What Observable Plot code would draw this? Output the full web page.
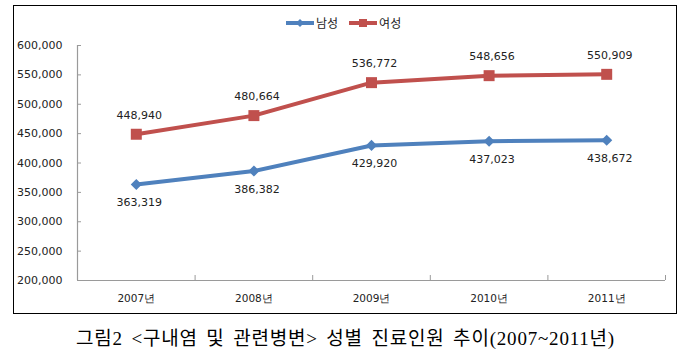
<!DOCTYPE html>
<html><head><meta charset="utf-8">
<script src="https://cdn.jsdelivr.net/npm/d3@7"></script>
<script src="https://cdn.jsdelivr.net/npm/@observablehq/plot@0.6"></script>
<style>
body{margin:0;background:#fff;width:691px;height:356px;overflow:hidden;position:relative;font-family:"DejaVu Sans",sans-serif}
#chart{position:absolute;left:0;top:0}
#frame{position:absolute;left:13px;top:5px;width:664px;height:309px;border:1.5px solid #000;box-sizing:border-box;pointer-events:none}
#legend{position:absolute;top:15px;left:286px;display:flex;align-items:center;font-family:"Noto Sans CJK KR",sans-serif;font-size:12px;color:#222;line-height:16px}
#legend .item{display:flex;align-items:center;margin-right:11px}
#legend svg{display:block;margin-right:2px}
#caption{position:absolute;top:328px;left:0;width:691px;text-align:center;font-family:"Liberation Serif","Noto Sans CJK KR",serif;font-size:19px;letter-spacing:0.8px;word-spacing:3px;line-height:22px;color:#000}
</style>
</head><body>
<div id="chart"></div>
<div id="legend"></div>
<div id="frame"></div>
<div id="caption"></div>
<script>
const years = ["2007년","2008년","2009년","2010년","2011년"];
const male = [363319, 386382, 429920, 437023, 438672];
const female = [448940, 480664, 536772, 548656, 550909];
const yTicks = [200000, 250000, 300000, 350000, 400000, 450000, 500000, 550000, 600000];
const seriesNames = ["남성", "여성"];
const colors = ["#4F81BD", "#C0504D"];
const captionText = "그림2 <구내염 및 관련병변> 성별 진료인원 추이(2007~2011년)";

const rows = years.map((y, i) => ({i, year: y, male: male[i], female: female[i]}));
const fmt = d3.format(",");
const xc = d => d.i + 0.5;

const plot = Plot.plot({
  width: 691, height: 320,
  marginLeft: 77, marginRight: 26, marginTop: 45, marginBottom: 40,
  style: {fontFamily: "DejaVu Sans, sans-serif", fontSize: "11px", color: "#222", background: "transparent"},
  x: {type: "linear", domain: [0, years.length], label: null},
  y: {type: "linear", domain: [yTicks[0], yTicks[yTicks.length - 1]], label: null},
  marks: [
    Plot.ruleX([0], {stroke: "#9a9a9a", strokeWidth: 1.2}),
    Plot.ruleY([yTicks[0]], {stroke: "#9a9a9a", strokeWidth: 1.2}),
    Plot.axisY({ticks: yTicks, tickSize: 0, tickPadding: 15, tickFormat: fmt, fontSize: 11, fill: "#222"}),
    Plot.axisY({ticks: yTicks, tickSize: -4, tickFormat: () => "", stroke: "#9a9a9a"}),
    Plot.axisX({ticks: years.map((_, i) => i + 1), tickSize: -5, tickFormat: () => "", stroke: "#9a9a9a"}),
    Plot.axisX({ticks: years.map((_, i) => i + 0.5), tickSize: 0, tickPadding: 14, tickFormat: v => years[Math.floor(v)], fontSize: 10.5, fill: "#222"}),
    Plot.line(rows, {x: xc, y: "female", stroke: colors[1], strokeWidth: 4}),
    Plot.line(rows, {x: xc, y: "male", stroke: colors[0], strokeWidth: 4}),
    Plot.dot(rows, {x: xc, y: "female", symbol: "square", r: 6.2, fill: colors[1]}),
    Plot.dot(rows, {x: xc, y: "male", symbol: "diamond2", r: 5, fill: colors[0]}),
    Plot.text(rows, {x: xc, y: "female", text: d => fmt(d.female), dy: -19, dx: 3, fontSize: 11, fill: "#222"}),
    Plot.text(rows, {x: xc, y: "male", text: d => fmt(d.male), dy: 18, dx: 3, fontSize: 11, fill: "#222"})
  ]
});
document.getElementById("chart").appendChild(plot);

// legend
const legend = d3.select("#legend");
seriesNames.forEach((name, k) => {
  const item = legend.append("div").attr("class", "item");
  const svg = item.append("svg").attr("width", 28).attr("height", 10);
  svg.append("line").attr("x1", 0).attr("x2", 28).attr("y1", 5).attr("y2", 5)
    .attr("stroke", colors[k]).attr("stroke-width", 4);
  if (k === 0) {
    svg.append("path").attr("d", "M14,1L18,5L14,9L10,5Z").attr("fill", colors[k]);
  } else {
    svg.append("rect").attr("x", 10).attr("y", 1).attr("width", 8).attr("height", 8).attr("fill", colors[k]);
  }
  item.append("span").text(name);
});
document.getElementById("caption").textContent = captionText;
</script>
</body></html>
